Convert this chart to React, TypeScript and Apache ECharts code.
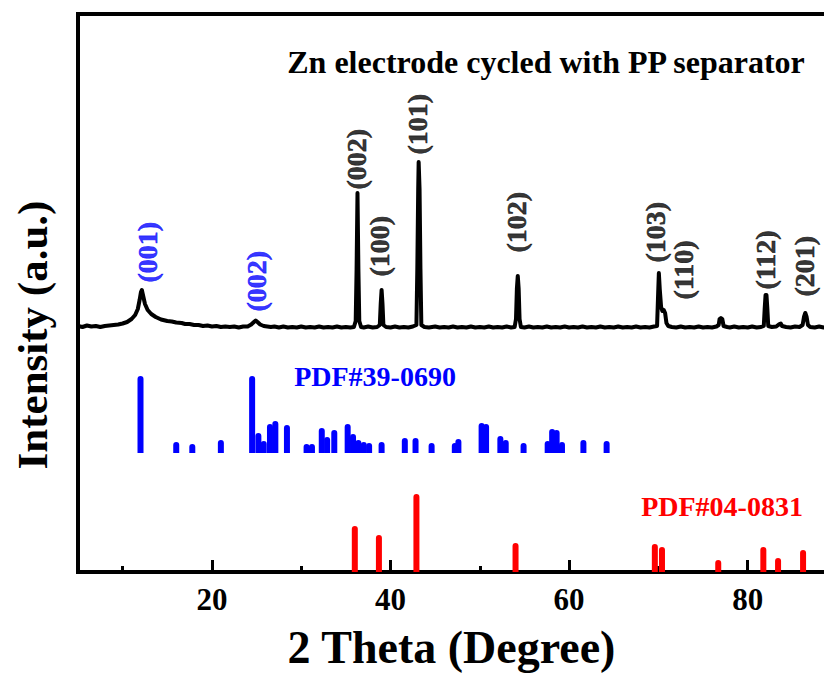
import React, { useEffect, useRef } from "react";
import * as echarts from "echarts";

const FONT = '"Times New Roman", "Liberation Serif", "DejaVu Serif", serif';

// Measured XRD pattern of the cycled Zn electrode (2θ in degrees, counts relative to its own baseline)
const xrdTheta = [
  5.0, 5.5, 6.0, 6.5, 7.0, 7.5, 8.0, 8.5, 9.0, 9.5, 10.0, 10.5, 11.0, 11.4, 11.7, 11.9, 12.05, 12.15, 12.3, 12.5,
  12.8, 13.2, 13.7, 14.3, 15.0, 15.5, 16.0, 16.6, 17.0, 17.5, 18.0, 18.5, 19.0, 19.5, 20.0, 20.5, 21.0, 21.5, 22.0,
  22.5, 23.0, 23.5, 24.0, 24.4, 24.7, 24.9, 25.1, 25.4, 25.8, 26.2, 26.6, 27.0, 27.5, 28.0, 28.5, 29.0, 29.5, 30.0,
  30.5, 31.0, 31.5, 32.0, 32.5, 33.0, 33.5, 34.0, 34.5, 35.0, 35.5, 35.9, 36.1, 36.2, 36.3, 36.4, 36.5, 36.7, 37.0,
  37.5, 38.0, 38.5, 38.8, 38.9, 39.0, 39.1, 39.2, 39.5, 40.0, 40.5, 41.0, 41.5, 42.0, 42.5, 42.9, 43.0, 43.1, 43.15,
  43.25, 43.35, 43.45, 43.8, 44.3, 45.0, 45.5, 46.0, 46.5, 47.0, 47.5, 48.0, 48.5, 49.0, 49.5, 50.0, 50.5, 51.0,
  51.5, 52.0, 52.5, 53.0, 53.5, 53.9, 54.05, 54.15, 54.25, 54.35, 54.45, 54.6, 55.0, 55.5, 56.0, 56.5, 57.0, 57.5,
  58.0, 58.5, 59.0, 59.5, 60.0, 60.5, 61.0, 61.5, 62.0, 62.5, 63.0, 63.5, 64.0, 64.5, 65.0, 65.5, 66.0, 66.5, 67.0,
  67.5, 68.0, 68.5, 69.0, 69.5, 69.85, 69.95, 70.05, 70.15, 70.3, 70.45, 70.6, 70.75, 70.9, 71.1, 71.5, 72.0, 72.5,
  73.0, 73.5, 74.0, 74.5, 75.0, 75.5, 76.0, 76.5, 76.75, 76.85, 77.0, 77.15, 77.3, 77.7, 78.0, 78.5, 79.0, 79.5,
  80.0, 80.5, 81.0, 81.5, 81.8, 81.9, 82.0, 82.1, 82.2, 82.3, 82.7, 83.2, 83.55, 83.7, 83.85, 84.3, 84.8, 85.3,
  85.8, 86.15, 86.3, 86.45, 86.6, 86.75, 87.0, 87.5, 88.0, 88.5, 89.0, 89.5, 90.0,
];
const xrdCounts = [
  3, 2, 3.5, 2.5, 3, 2, 3, 3.5, 4, 4.5, 5.5, 7, 10, 14, 20, 29, 37, 39, 33, 25,
  19, 15, 12, 9.5, 8, 7.5, 6.5, 6, 5, 5, 4, 4, 3, 3.5, 2.5, 3, 2, 2.5, 2,
  2.5, 1.5, 2.5, 2.5, 4.5, 7, 8.5, 7, 4.5, 3, 2.5, 2, 2.5, 1.5, 2.5, 1.5, 2, 1.5, 2.5,
  1.5, 2, 1.5, 2.5, 1.5, 2, 1.5, 2.5, 1.5, 2, 1.5, 2, 8, 60, 136, 60, 8, 2, 1.5,
  2.5, 1.5, 2, 4, 25, 39, 25, 4, 2, 1.5, 2.5, 1.5, 2, 1.5, 2.5, 4, 60, 140, 167,
  140, 60, 4, 2, 1.5, 2.5, 1.5, 2, 1.5, 2.5, 1.5, 2, 1.5, 2.5, 1.5, 2, 1.5, 2.5,
  1.5, 2, 1.5, 2.5, 1.5, 2, 10, 40, 53, 40, 10, 2, 1.5, 2.5, 1.5, 2, 1.5, 2.5,
  1.5, 2, 1.5, 2.5, 1.5, 2, 1.5, 2.5, 1.5, 2, 1.5, 2.5, 1.5, 2, 1.5, 2.5, 1.5, 2, 1.5,
  2.5, 1.5, 2, 1.5, 2.5, 3, 30, 56, 40, 22, 18, 19, 16, 6, 3, 2, 1.5, 2.5,
  1.5, 2, 1.5, 2.5, 1.5, 2, 1.5, 2.5, 4, 10, 11, 10, 3, 2, 1.5, 2.5, 1.5, 2,
  1.5, 2.5, 1.5, 2, 3, 20, 34, 34, 20, 3, 2, 2.5, 5, 5.5, 3, 2, 1.5, 2.5,
  2, 4, 12, 16, 12, 4, 2, 1.5, 2.5, 1.5, 2, 1.5, 2,
];
const XRD_OFFSET = 243;

// Reference pattern PDF#39-0690 (stick positions and relative intensities)
const pdf390690Theta = [
  12.0, 16.0, 17.8, 21.0, 24.5, 25.2, 25.8, 26.5, 27.1, 28.4, 30.6, 31.2, 32.3, 32.9, 33.7, 35.2, 35.8, 36.4, 37.0,
  37.6, 39.0, 41.6, 42.8, 44.6, 47.2, 47.6, 50.2, 50.7, 52.3, 52.9, 54.9, 57.6, 58.1, 58.6, 59.2, 61.6, 64.2,
];
const pdf390690Int = [
  77, 11, 9, 13, 77, 20, 12, 29, 32, 28, 9, 9, 25, 16, 23, 29, 19, 13, 11,
  10, 11, 15, 15, 10, 10, 14, 30, 29, 17, 13, 10, 12, 24, 23, 11, 13, 12,
];
const PDF39_BASE = 119;

// Reference pattern PDF#04-0831 (Zn)
const pdf040831Theta = [36.0, 38.7, 42.9, 54.0, 69.6, 70.4, 76.7, 81.75, 83.4, 86.2];
const pdf040831Int = [46, 37, 78, 29, 28, 25, 12, 25, 14, 22];
const PDF04_BASE = 0;

// Peak indexing labels: hydrate phase (blue) and Zn (black)
const hydrateHkl = ["(001)", "(002)"];
const hydrateLabelTheta = [12.8, 25.1];
const hydrateLabelAt = [289, 260];

const znHkl = ["(002)", "(100)", "(101)", "(102)", "(103)", "(110)", "(112)", "(201)"];
const znLabelTheta = [36.2, 38.85, 43.1, 54.2, 69.7, 72.9, 82.0, 86.45];
const znLabelAt = [382, 295, 417, 319, 309, 272, 282, 275];

const xTickLabels = [20, 40, 60, 80];

const BLUE = "#0000ff";
const RED = "#ff0000";

function stickSeries(thetas: number[], ints: number[], base: number, color: string, name: string) {
  return {
    type: "custom",
    name,
    xAxisIndex: 0,
    yAxisIndex: 0,
    z: 3,
    clip: true,
    data: thetas.map((t, i) => [t, ints[i]]),
    encode: { x: 0, y: 1 },
    renderItem: (_params: any, api: any) => {
      const t = api.value(0) as number;
      const h = api.value(1) as number;
      const p0 = api.coord([t, base]);
      const p1 = api.coord([t, base + h]);
      const w = 6;
      return {
        type: "rect",
        shape: { x: p0[0] - w / 2, y: p1[1], width: w, height: p0[1] - p1[1], r: [w / 2, w / 2, 0, 0] },
        style: { fill: color },
      };
    },
  };
}

function labelSeries(hkl: string[], thetas: number[], at: number[], color: string, name: string) {
  return {
    type: "scatter",
    name,
    xAxisIndex: 0,
    yAxisIndex: 0,
    symbolSize: 1,
    itemStyle: { color: "rgba(0,0,0,0)" },
    data: hkl.map((h, i) => [thetas[i], at[i], h]),
    z: 6,
    label: {
      show: true,
      position: [0, 0],
      rotate: 90,
      align: "left",
      verticalAlign: "middle",
      color,
      textBorderColor: color,
      textBorderWidth: 0.6,
      fontFamily: FONT,
      fontWeight: "bold",
      fontSize: 28,
      formatter: (p: any) => p.value[2],
    },
  };
}

export default function App() {
  const ref = useRef<HTMLDivElement>(null);

  useEffect(() => {
    if (!ref.current) return;
    const chart = echarts.init(ref.current, null, { renderer: "svg" });

    const xrdData = xrdTheta.map((t, i) => [t, xrdCounts[i] + XRD_OFFSET]);

    const axisCommon = {
      type: "value",
      min: 5,
      max: 90,
      gridIndex: 0,
      position: "bottom",
      splitLine: { show: false },
    };

    chart.setOption({
      animation: false,
      backgroundColor: "#ffffff",
      grid: {
        left: 78,
        top: 14,
        right: 0,
        bottom: 109,
        show: true,
        borderColor: "#000",
        borderWidth: 4,
        containLabel: false,
      },
      xAxis: [
        {
          ...axisCommon,
          splitNumber: 4,
          name: "2 Theta (Degree)",
          nameLocation: "middle",
          nameGap: 52,
          nameTextStyle: {
            fontFamily: FONT,
            fontWeight: "bold",
            fontSize: 46,
            color: "#000",
            padding: [0, 12, 0, 0],
          },
          axisLine: { show: true, lineStyle: { color: "#000", width: 4 } },
          axisTick: { show: true, inside: true, length: 12, lineStyle: { color: "#000", width: 3 } },
          axisLabel: {
            show: true,
            margin: 12,
            fontFamily: FONT,
            fontWeight: "bold",
            fontSize: 31,
            color: "#000",
            formatter: (v: number) => (xTickLabels.includes(v) ? String(v) : ""),
          },
        },
        {
          ...axisCommon,
          splitNumber: 8,
          axisLine: { show: false },
          axisTick: { show: true, inside: true, length: 6, lineStyle: { color: "#000", width: 3 } },
          axisLabel: { show: false },
        },
      ],
      yAxis: {
        type: "value",
        min: 0,
        max: 558,
        name: "Intensity (a.u.)",
        nameLocation: "middle",
        nameGap: 24,
        nameTextStyle: {
          fontFamily: FONT,
          fontWeight: "bold",
          fontSize: 43,
          color: "#000",
          padding: [0, 84, 0, 0],
        },
        axisLine: { show: true, lineStyle: { color: "#000", width: 4 } },
        axisTick: { show: false },
        axisLabel: { show: false },
        splitLine: { show: false },
      },
      graphic: [
        {
          type: "text",
          x: 546,
          y: 62,
          z: 10,
          style: {
            text: "Zn electrode cycled with PP separator",
            fill: "#000",
            fontFamily: FONT,
            fontWeight: "bold",
            fontSize: 32,
            align: "center",
            verticalAlign: "middle",
          },
        },
        {
          type: "text",
          x: 375,
          y: 376,
          z: 10,
          style: {
            text: "PDF#39-0690",
            fill: BLUE,
            fontFamily: FONT,
            fontWeight: "bold",
            fontSize: 28,
            align: "center",
            verticalAlign: "middle",
          },
        },
        {
          type: "text",
          x: 722,
          y: 506,
          z: 10,
          style: {
            text: "PDF#04-0831",
            fill: RED,
            fontFamily: FONT,
            fontWeight: "bold",
            fontSize: 28,
            align: "center",
            verticalAlign: "middle",
          },
        },
      ],
      series: [
        {
          type: "line",
          name: "Zn electrode",
          xAxisIndex: 0,
          yAxisIndex: 0,
          data: xrdData,
          showSymbol: false,
          symbol: "none",
          lineStyle: { color: "#000", width: 4, join: "round" },
          z: 4,
        },
        stickSeries(pdf390690Theta, pdf390690Int, PDF39_BASE, BLUE, "PDF#39-0690"),
        stickSeries(pdf040831Theta, pdf040831Int, PDF04_BASE, RED, "PDF#04-0831"),
        labelSeries(hydrateHkl, hydrateLabelTheta, hydrateLabelAt, BLUE, "hydrate hkl"),
        labelSeries(znHkl, znLabelTheta, znLabelAt, "#000", "Zn hkl"),
      ],
    });

    return () => chart.dispose();
  }, []);

  return <div ref={ref} style={{ position: "fixed", left: 0, top: 0, width: 840, height: 681, background: "#fff" }} />;
}
